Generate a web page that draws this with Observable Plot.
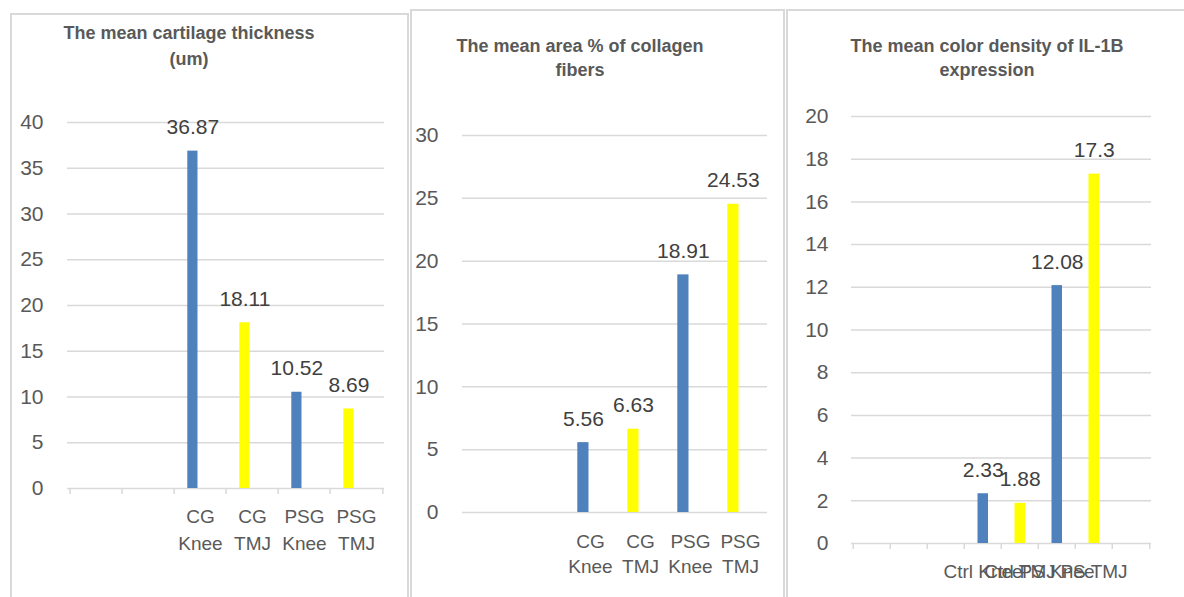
<!DOCTYPE html>
<html><head><meta charset="utf-8">
<script src="https://cdn.jsdelivr.net/npm/d3@7"></script>
<script src="https://cdn.jsdelivr.net/npm/@observablehq/plot@0.6"></script>
<style>
body{margin:0;background:#fff;width:1184px;height:597px;overflow:hidden;position:relative;font-family:"Liberation Sans",Arial,sans-serif;}
.panel{position:absolute;border:2px solid #d9d9d9;box-sizing:border-box;background:transparent;}
.title{position:absolute;text-align:center;font-weight:bold;font-size:18px;color:#595959;white-space:nowrap;transform:translateX(-50%);}
.chart{position:absolute;}
.chart g[aria-label="y-axis tick label"]{font-size:21px !important;}
.chart g[aria-label="x-axis tick label"]{font-size:19px !important;}
.chart g[aria-label="text"]{font-size:21px !important;}
</style></head><body>
<script>
// ---- Data ----
const titles1 = ["The mean cartilage thickness", "(um)"];
const labels1 = ["", "", "CG\nKnee", "CG\nTMJ", "PSG\nKnee", "PSG\nTMJ"];
const groups1 = ["", "", "Knee", "TMJ", "Knee", "TMJ"];
const values1 = [null, null, 36.87, 18.11, 10.52, 8.69];
const yTicks1 = [0, 5, 10, 15, 20, 25, 30, 35, 40];

const titles2 = ["The mean area % of collagen", "fibers"];
const labels2 = ["", "", "CG\nKnee", "CG\nTMJ", "PSG\nKnee", "PSG\nTMJ"];
const groups2 = ["", "", "Knee", "TMJ", "Knee", "TMJ"];
const values2 = [null, null, 5.56, 6.63, 18.91, 24.53];
const yTicks2 = [0, 5, 10, 15, 20, 25, 30];

const titles3 = ["The mean color density of IL-1B", "expression"];
const labels3 = ["", "", "", "Ctrl Knee", "Ctrl TMJ", "PS Knee", "PS TMJ", ""];
const groups3 = ["", "", "", "Knee", "TMJ", "Knee", "TMJ", ""];
const values3 = [null, null, null, 2.33, 1.88, 12.08, 17.3, null];
const yTicks3 = [0, 2, 4, 6, 8, 10, 12, 14, 16, 18, 20];

const seriesDomain = ["Knee", "TMJ"];
const seriesColors = ["#4f81bd", "#ffff00"];

function panel(cfg) {
  const box = document.createElement("div");
  box.className = "panel";
  Object.assign(box.style, {left: cfg.box[0] + "px", top: cfg.box[1] + "px", width: cfg.box[2] + "px", height: cfg.box[3] + "px"});
  document.body.appendChild(box);

  const t = document.createElement("div");
  t.className = "title";
  t.style.left = cfg.titleX + "px";
  t.style.top = cfg.titleTop + "px";
  t.style.lineHeight = cfg.titleLH + "px";
  t.innerHTML = cfg.titles.join("<br>");
  document.body.appendChild(t);

  const n = cfg.labels.length;
  const idx = d3.range(n);
  const withVal = idx.filter(i => cfg.values[i] != null);
  const step = (cfg.width - cfg.ml - cfg.mr) / n;
  const marks = [
    Plot.gridY(cfg.yTicks, {stroke: "#d9d9d9", strokeOpacity: 1, strokeWidth: 1.5}),
    Plot.axisY({ticks: cfg.yTicks, tickSize: 0, tickPadding: cfg.yPad, fontSize: 21}),
    Plot.axisX({tickSize: 0, tickPadding: cfg.xPad, tickFormat: i => cfg.labels[i], fontSize: 19, lineHeight: cfg.xLH}),
    Plot.barY(withVal, {x: i => i, y: i => cfg.values[i], fill: i => cfg.groups[i], insetLeft: cfg.insL, insetRight: cfg.insR}),
    Plot.text(withVal, {x: i => i, y: i => cfg.values[i], text: i => String(cfg.values[i]), lineAnchor: "bottom", dy: -17, dx: (cfg.insL - cfg.insR) / 2, fontSize: 21, fill: "#404040"})
  ];
  if (cfg.ticks) {
    marks.push(Plot.ruleX(idx, {x: i => i, dx: -step / 2, y1: 0, y2: 0, insetBottom: -6, stroke: "#d9d9d9", strokeWidth: 1.5}));
    marks.push(Plot.ruleX([n - 1], {x: i => i, dx: step / 2, y1: 0, y2: 0, insetBottom: -6, stroke: "#d9d9d9", strokeWidth: 1.5}));
  }
  const chart = Plot.plot({
    width: cfg.width, height: cfg.height,
    marginLeft: cfg.ml, marginRight: cfg.mr, marginTop: cfg.mt, marginBottom: cfg.mb,
    style: {fontFamily: '"Liberation Sans", Arial, sans-serif', fontSize: "19px", color: "#595959", background: "transparent", overflow: "visible"},
    x: {type: "band", domain: idx, padding: 0, axis: null},
    y: {domain: [0, cfg.yTicks[cfg.yTicks.length - 1]], axis: null},
    color: {domain: seriesDomain, range: seriesColors},
    marks
  });
  chart.classList.add("chart");
  chart.style.left = cfg.left + "px";
  chart.style.top = cfg.top + "px";
  document.body.appendChild(chart);
}

panel({box: [10, 13, 399, 600], titles: titles1, titleX: 189, titleTop: 20, titleLH: 26,
  labels: labels1, groups: groups1, values: values1, yTicks: yTicks1,
  left: 10, top: 13, width: 399, height: 584, ml: 57, mr: 25, mt: 109, mb: 109,
  yPad: 24, xPad: 16.5, xLH: 1.37, insL: 13.3, insR: 28.5, ticks: true});

panel({box: [410, 9, 375, 600], titles: titles2, titleX: 580, titleTop: 34, titleLH: 24,
  labels: labels2, groups: groups2, values: values2, yTicks: yTicks2,
  left: 410, top: 10, width: 375, height: 587, ml: 52, mr: 18, mt: 125, mb: 85,
  yPad: 24, xPad: 17.5, xLH: 1.32, insL: 12.3, insR: 26.5, ticks: false});

panel({box: [786, 9, 410, 600], titles: titles3, titleX: 987, titleTop: 34, titleLH: 24,
  labels: labels3, groups: groups3, values: values3, yTicks: yTicks3,
  left: 786, top: 10, width: 398, height: 587, ml: 65, mr: 33, mt: 106, mb: 54,
  yPad: 23, xPad: 16.5, xLH: 1.3, insL: 13.5, insR: 13, ticks: true});
</script>
</body></html>
